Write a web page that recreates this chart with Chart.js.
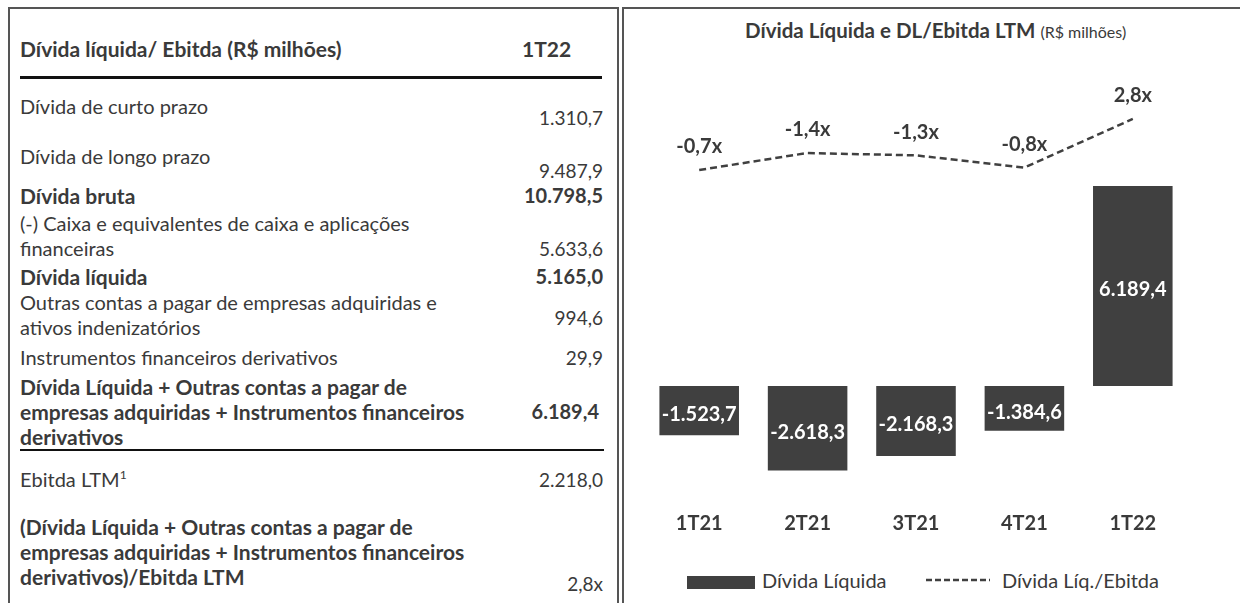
<!DOCTYPE html>
<html lang="pt-BR">
<head>
<meta charset="utf-8">
<title>Dívida Líquida e DL/Ebitda LTM</title>
<script src="https://cdn.jsdelivr.net/npm/chart.js@4.4.1/dist/chart.umd.min.js"></script>
<style>
    body {
        margin: 0;
        width: 1240px;
        height: 603px;
        overflow: hidden;
        background: #fff;
        position: relative;
        font-family: Lato, sans-serif;
        color: #3a3a3a;
    }
    .box {
        position: absolute;
        top: 7px;
        height: 640px;
        border: 2px solid #555;
        box-sizing: border-box;
    }
    #left { left: 8px; width: 611px; }
    #right { left: 622px; width: 640px; }
    .t, .v {
        position: absolute;
        font-size: 20px;
        line-height: 25px;
        white-space: nowrap;
    }
    .t { left: 20px; }
    .v { left: 400px; width: 203px; text-align: right; font-size: 19px; }
    .t.b { font-size: 21px; }
    .v.b { font-size: 20px; }
    .b { font-weight: bold; }
    .rule { position: absolute; left: 20px; background: #111; }
    sup { font-size: 12px; vertical-align: 8px; line-height: 0; }
    #title {
        position: absolute;
        left: 745px;
        top: 18px;
        font-size: 20.5px;
        font-weight: bold;
        white-space: nowrap;
    }
    #title span { font-size: 16px; font-weight: normal; }
    #chartWrap { position: absolute; left: 630px; top: 60px; width: 600px; height: 480px; }
    .legend { position: absolute; font-size: 20px; line-height: 24px; top: 568px; white-space: nowrap; }
</style>
</head>
<body>
<div class="box" id="left"></div>
<div class="box" id="right"></div>

<div class="t b" style="top:36px">Dívida líquida/ Ebitda (R$ milhões)</div>
<div class="t b" style="top:36px; left:522px">1T22</div>
<div class="rule" style="top:76px; width:582px; height:3px"></div>

<div class="t" style="top:94px">Dívida de curto prazo</div>
<div class="v" style="top:105px">1.310,7</div>
<div class="t" style="top:144px">Dívida de longo prazo</div>
<div class="v" style="top:158px">9.487,9</div>
<div class="t b" style="top:183px">Dívida bruta</div>
<div class="v b" style="top:183px">10.798,5</div>
<div class="t" style="top:211px">(-) Caixa e equivalentes de caixa e aplicações<br>financeiras</div>
<div class="v" style="top:236px">5.633,6</div>
<div class="t b" style="top:264px">Dívida líquida</div>
<div class="v b" style="top:264px">5.165,0</div>
<div class="t" style="top:290px">Outras contas a pagar de empresas adquiridas e<br>ativos indenizatórios</div>
<div class="v" style="top:305px">994,6</div>
<div class="t" style="top:345px">Instrumentos financeiros derivativos</div>
<div class="v" style="top:345px">29,9</div>
<div class="t b" style="top:374px">Dívida Líquida + Outras contas a pagar de<br>empresas adquiridas + Instrumentos financeiros<br>derivativos</div>
<div class="v b" style="top:399px; left:396px">6.189,4</div>
<div class="rule" style="top:449px; width:584px; height:2px"></div>
<div class="t" style="top:467px">Ebitda LTM<sup>1</sup></div>
<div class="v" style="top:467px">2.218,0</div>
<div class="t b" style="top:514px">(Dívida Líquida + Outras contas a pagar de<br>empresas adquiridas + Instrumentos financeiros<br>derivativos)/Ebitda LTM</div>
<div class="v" style="top:571px">2,8x</div>

<div id="title">Dívida Líquida e DL/Ebitda LTM <span>(R$ milhões)</span></div>
<div id="chartWrap"><canvas id="chart" width="600" height="480"></canvas></div>

<div class="legend" style="left:687px">
    <span style="display:inline-block; width:68px; height:13px; background:#404040; vertical-align:-1px"></span>
</div>
<div class="legend" style="left:762px">Dívida Líquida</div>
<div class="legend" style="left:926px">
    <svg width="64" height="24" style="vertical-align:top"><line x1="0" y1="12" x2="64" y2="12" stroke="#404040" stroke-width="2.5" stroke-dasharray="6,3"/></svg>
</div>
<div class="legend" style="left:1002px">Dívida Líq./Ebitda</div>

<script>
const categories = ['1T21', '2T21', '3T21', '4T21', '1T22'];
const netDebt = [-1523.7, -2618.3, -2168.3, -1384.6, 6189.4];
const netDebtLabels = ['-1.523,7', '-2.618,3', '-2.168,3', '-1.384,6', '6.189,4'];
// altura da linha como aparece no gráfico original
const leverage = [0.7, 1.4, 1.3, 0.8, 2.8];
const leverageLabels = ['-0,7x', '-1,4x', '-1,3x', '-0,8x', '2,8x'];

const dark = '#404040';

const valueLabels = {
    id: 'valueLabels',
    afterDatasetsDraw(chart) {
        const ctx = chart.ctx;
        ctx.save();
        ctx.textAlign = 'center';
        ctx.textBaseline = 'middle';

        ctx.font = 'bold 20px Lato';
        ctx.fillStyle = '#fff';
        chart.getDatasetMeta(1).data.forEach((bar, i) => {
            ctx.fillText(netDebtLabels[i], bar.x, (bar.y + bar.base) / 2 + 4);
        });

        ctx.fillStyle = '#3a3a3a';
        chart.getDatasetMeta(0).data.forEach((pt, i) => {
            ctx.fillText(leverageLabels[i], pt.x, pt.y - 23);
        });
        ctx.restore();
    }
};

new Chart(document.getElementById('chart'), {
    type: 'bar',
    data: {
        labels: categories,
        datasets: [{
            type: 'line',
            label: 'Dívida Líq./Ebitda',
            data: leverage,
            yAxisID: 'y1',
            borderColor: dark,
            borderWidth: 2.5,
            borderDash: [7, 4],
            pointRadius: 0,
            tension: 0,
            fill: false,
        }, {
            label: 'Dívida Líquida',
            data: netDebt,
            yAxisID: 'y',
            backgroundColor: dark,
            barPercentage: 0.734,
            categoryPercentage: 1,
        }],
    },
    options: {
        responsive: false,
        animation: false,
        layout: {
            padding: { left: 15, right: 43, top: 40, bottom: 0 },
        },
        plugins: {
            legend: { display: false },
            tooltip: { enabled: false },
        },
        scales: {
            x: {
                grid: { display: false },
                border: { display: false },
                ticks: {
                    color: '#3a3a3a',
                    padding: 4,
                    font: { family: 'Lato', size: 20, weight: 'bold' },
                },
                afterFit: (scale) => { scale.height = 40; },
            },
            y: {
                min: -3530,
                max: 8855,
                border: { display: false },
                grid: {
                    drawTicks: false,
                    lineWidth: 2,
                    color: (c) => (c.tick && c.tick.value === 0 ? '#d6d6d6' : 'transparent'),
                },
                ticks: { display: false, stepSize: 1000 },
            },
            y1: {
                display: false,
                min: -12.88,
                max: 3.58,
            },
        },
    },
    plugins: [valueLabels],
});
</script>
</body>
</html>
